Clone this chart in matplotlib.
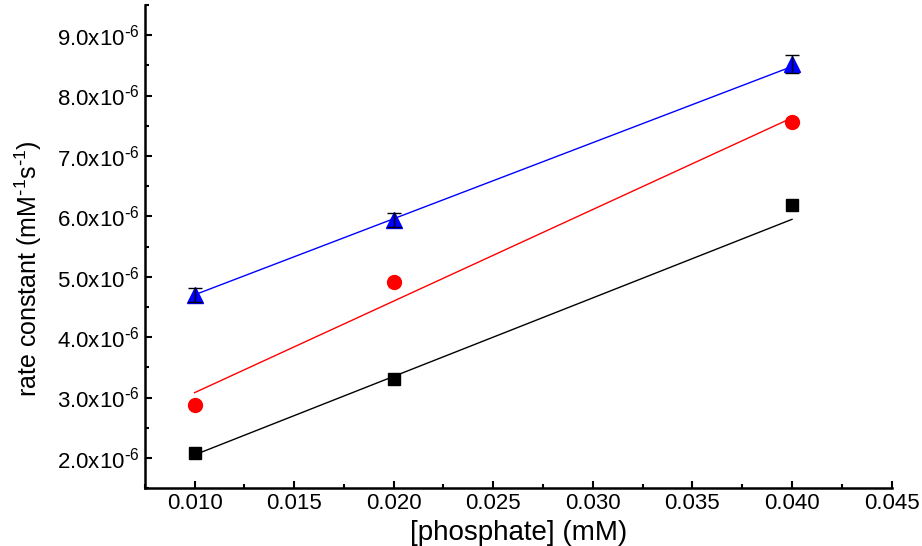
import matplotlib
matplotlib.use("Agg")
import matplotlib.pyplot as plt
from matplotlib.ticker import MultipleLocator, FuncFormatter

plt.rcParams['font.family'] = ['Liberation Sans', 'DejaVu Sans']
plt.rcParams['mathtext.default'] = 'regular'

# concentrations (mM) and rate constants (x1e-6 mM^-1 s^-1)
phosphate = [0.010, 0.020, 0.040]
k_black = [2.08, 3.30, 6.18]
k_red = [2.88, 4.92, 7.56]
k_blue = [4.70, 5.94, 8.52]
err_blue = [0.12, 0.12, 0.15]

# fitted lines, value at first and last concentration
fit_x = [0.010, 0.040]
fit_black = [2.05, 5.95]
fit_red = [3.08, 7.63]
fit_blue = [4.70, 8.48]

fig = plt.figure(figsize=(9.22, 5.46), dpi=100)
ax = fig.add_axes([0.157, 0.106, 0.81, 0.885])

scale = 1e-6
ax.plot(fit_x, [v * scale for v in fit_black], color='black', lw=1)
ax.plot(fit_x, [v * scale for v in fit_red], color='red', lw=1)
ax.plot(fit_x, [v * scale for v in fit_blue], color='blue', lw=1)

ax.plot(phosphate, [v * scale for v in k_black], 's', color='black', ms=9, ls='none')
ax.plot(phosphate, [v * scale for v in k_red], 'o', color='red', ms=10, ls='none')
ax.plot(phosphate, [v * scale for v in k_blue], '^', color='blue', ms=11, ls='none')
ax.errorbar(phosphate, [v * scale for v in k_blue], yerr=[e * scale for e in err_blue],
            fmt='none', ecolor='black', elinewidth=1, capsize=5, capthick=1, zorder=4)

ax.set_xlim(0.0075, 0.045)
ax.set_ylim(1.5e-6, 9.5e-6)

ax.xaxis.set_major_locator(MultipleLocator(0.005))
ax.xaxis.set_minor_locator(MultipleLocator(0.0025))
ax.yaxis.set_major_locator(MultipleLocator(1e-6))
ax.yaxis.set_minor_locator(MultipleLocator(0.5e-6))

ax.xaxis.set_major_formatter(FuncFormatter(lambda v, p: "%.3f" % v))
ax.yaxis.set_major_formatter(FuncFormatter(lambda v, p: r"$%.1fx10^{\text{-}6}$" % (v / 1e-6)))

ax.tick_params(which='both', direction='in', labelsize=16, width=1.5)
ax.tick_params(which='major', length=5)
ax.tick_params(which='minor', length=3)

for s in ['top', 'right']:
    ax.spines[s].set_visible(False)
for s in ['left', 'bottom']:
    ax.spines[s].set_linewidth(1.8)

ax.set_xlabel('[phosphate] (mM)', fontsize=20)
ax.set_ylabel(r'rate constant (mM$^{\text{-}1}$s$^{\text{-}1}$)', fontsize=18)
ax.yaxis.set_label_coords(-0.135, 0.455)

fig.savefig('out.png', dpi=100)
